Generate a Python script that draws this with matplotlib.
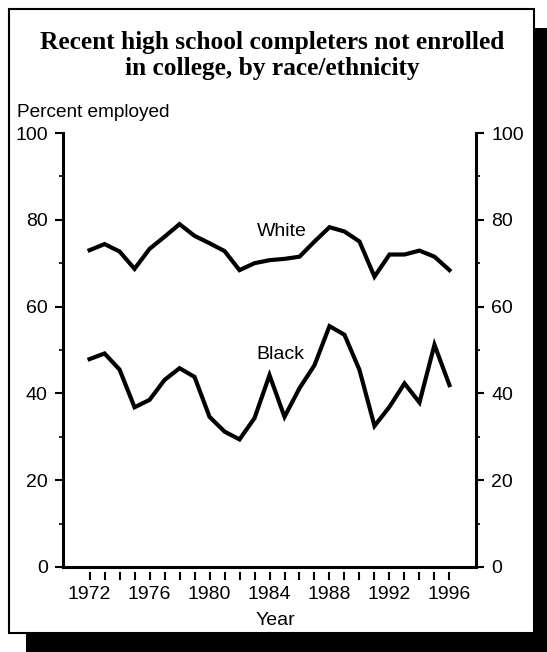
import matplotlib
matplotlib.use("Agg")
import matplotlib.pyplot as plt
from matplotlib.patches import Rectangle
from matplotlib.ticker import MultipleLocator

# data
years = list(range(1972, 1997))
white = [73.0, 74.4, 72.7, 68.7, 73.3, 76.1, 79.0, 76.3, 74.6, 72.8, 68.4, 70.0, 70.7,
         71.0, 71.5, 75.0, 78.3, 77.3, 75.0, 66.9, 72.0, 72.0, 72.9, 71.5, 68.4]
black = [47.9, 49.2, 45.5, 36.8, 38.5, 43.1, 45.8, 43.8, 34.6, 31.2, 29.4, 34.3, 44.2,
         34.6, 41.2, 46.5, 55.5, 53.5, 45.4, 32.5, 36.9, 42.3, 37.9, 51.2, 41.9]
year_labels = [1972, 1976, 1980, 1984, 1988, 1992, 1996]

title = "Recent high school completers not enrolled\nin college, by race/ethnicity"

sans = "Liberation Sans"
serif = "Liberation Serif"
fs = 14

fig = plt.figure(figsize=(5.47, 6.52), dpi=100, facecolor="white")

# drop shadow + framed box
fig.patches.append(Rectangle((0.0475, 0.0), 0.96, 0.957, transform=fig.transFigure,
                             facecolor="black", edgecolor="none", zorder=-2))
fig.patches.append(Rectangle((0.0165, 0.029), 0.96, 0.957, transform=fig.transFigure,
                             facecolor="white", edgecolor="black", linewidth=1.5, zorder=-1))

ax = fig.add_axes([0.1152, 0.1304, 0.755, 0.6656])
ax.set_facecolor("none")

ax.plot(years, white, color="black", lw=3.0, solid_joinstyle="miter")
ax.plot(years, black, color="black", lw=3.0, solid_joinstyle="miter")

ax.text(1984.8, 77.3, "White", fontsize=fs, family=sans, ha="center", va="center")
ax.text(1984.7, 49.0, "Black", fontsize=fs, family=sans, ha="center", va="center")

ax.set_xlim(1970.23, 1997.77)
ax.set_ylim(0, 100)

for s in ["left", "right", "bottom"]:
    ax.spines[s].set_linewidth(2.2)
ax.spines["top"].set_visible(False)

# y axes on both sides
ax.yaxis.set_major_locator(MultipleLocator(20))
ax.yaxis.set_minor_locator(MultipleLocator(10))
ax.tick_params(axis="y", which="both", left=True, right=True, labelleft=True, labelright=True,
               direction="out", labelsize=fs, pad=5)
ax.tick_params(axis="y", which="major", length=6, width=1.5)
ax.tick_params(axis="y", which="minor", length=3, width=1.2)
for lab in ax.get_yticklabels():
    lab.set_family(sans)

# x ticks hang a little below the axis line
ax.set_xticks([])
sec = ax.secondary_xaxis(-0.012)
sec.spines["bottom"].set_visible(False)
sec.set_xticks(year_labels)
sec.set_xticks(years, minor=True)
sec.set_xticklabels([str(y) for y in year_labels], family=sans)
sec.tick_params(axis="x", which="both", length=6, width=1.5, direction="out", labelsize=fs, pad=4)

fig.text(0.031, 0.827, "Percent employed", fontsize=13.7, family=sans, ha="left", va="center")
fig.text(0.503, 0.049, "Year", fontsize=fs, family=sans, ha="center", va="center")
fig.text(0.497, 0.915, title, fontsize=18.3, family=serif, weight="bold",
         ha="center", va="center", linespacing=1.12)

fig.savefig("out.png", dpi=100)
